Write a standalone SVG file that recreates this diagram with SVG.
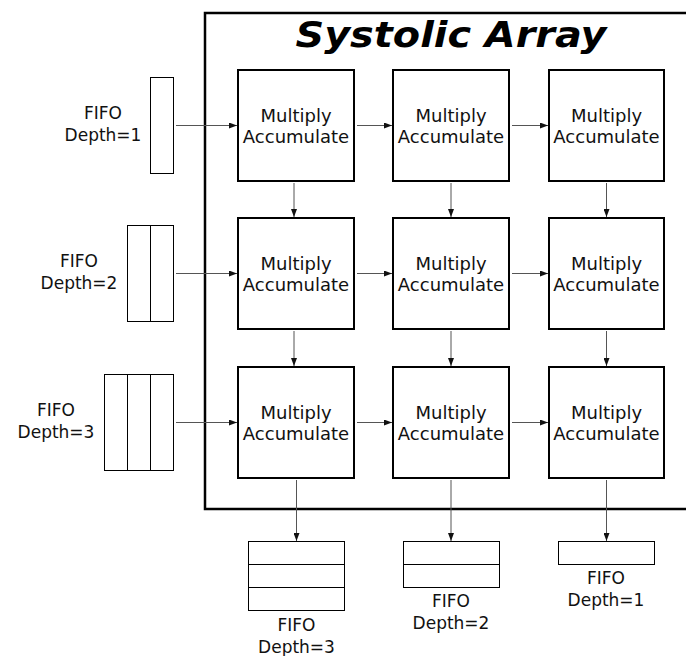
<svg xmlns="http://www.w3.org/2000/svg" width="686" height="656" viewBox="0 0 686 656">
  <style>
    .frame { fill: none; stroke: #000; stroke-width: 2.5; }
    .mac rect { fill: #fff; stroke: #000; stroke-width: 2; }
    .mac text { font-family: "DejaVu Sans", sans-serif; font-size: 18px; text-anchor: middle; fill: #111; }
    .fifo rect, .fifo line { fill: #fff; stroke: #000; stroke-width: 1; }
    .fifo line { fill: none; }
    .fifo text { font-family: "DejaVu Sans", sans-serif; font-size: 17px; text-anchor: middle; fill: #111; }
    .title { font-family: "DejaVu Sans", sans-serif; font-size: 35px; font-weight: bold; font-style: italic; text-anchor: middle; fill: #000; }
    #connectors line { stroke: #555; stroke-width: 1; marker-end: url(#arrow); }
  </style>
  <defs>
    <marker id="arrow" viewBox="0 0 8 6" refX="8" refY="3" markerWidth="8" markerHeight="6" markerUnits="userSpaceOnUse" orient="auto">
      <path d="M0,0 L8,3 L0,6 Z" fill="#111"/>
    </marker>
  </defs>
  <rect width="686" height="656" fill="#fff"/>

  <!-- array frame, open on the right -->
  <rect class="frame" x="205" y="13" width="500" height="496"/>
  <text class="title" x="451" y="47" textLength="311" lengthAdjust="spacingAndGlyphs">Systolic Array</text>

  <!-- connectors -->
  <g id="connectors">
    <!-- input FIFOs to first column -->
    <line x1="176" y1="125.5" x2="237" y2="125.5"/>
    <line x1="176" y1="273.5" x2="237" y2="273.5"/>
    <line x1="176" y1="422.5" x2="237" y2="422.5"/>
    <!-- horizontal links between cells -->
    <line x1="357" y1="125.5" x2="392" y2="125.5"/>
    <line x1="512" y1="125.5" x2="548" y2="125.5"/>
    <line x1="357" y1="273.5" x2="392" y2="273.5"/>
    <line x1="512" y1="273.5" x2="548" y2="273.5"/>
    <line x1="357" y1="422.5" x2="392" y2="422.5"/>
    <line x1="512" y1="422.5" x2="548" y2="422.5"/>
    <!-- vertical links between cells -->
    <line x1="294" y1="183" x2="294" y2="217"/>
    <line x1="451" y1="183" x2="451" y2="217"/>
    <line x1="606.5" y1="183" x2="606.5" y2="217"/>
    <line x1="294" y1="331" x2="294" y2="366"/>
    <line x1="451" y1="331" x2="451" y2="366"/>
    <line x1="606.5" y1="331" x2="606.5" y2="366"/>
    <!-- last row to output FIFOs -->
    <line x1="296.5" y1="480" x2="296.5" y2="541"/>
    <line x1="451" y1="480" x2="451" y2="541"/>
    <line x1="606.5" y1="480" x2="606.5" y2="541"/>
  </g>

  <!-- multiply-accumulate cells -->
  <g id="mac-1-1" class="mac"><rect x="238" y="70" width="116" height="111"/><text x="296" y="122">Multiply</text><text x="296" y="143">Accumulate</text></g>
  <g id="mac-1-2" class="mac"><rect x="393" y="70" width="116" height="111"/><text x="451" y="122">Multiply</text><text x="451" y="143">Accumulate</text></g>
  <g id="mac-1-3" class="mac"><rect x="549" y="70" width="115" height="111"/><text x="606.5" y="122">Multiply</text><text x="606.5" y="143">Accumulate</text></g>

  <g id="mac-2-1" class="mac"><rect x="238" y="218" width="116" height="111"/><text x="296" y="270">Multiply</text><text x="296" y="291">Accumulate</text></g>
  <g id="mac-2-2" class="mac"><rect x="393" y="218" width="116" height="111"/><text x="451" y="270">Multiply</text><text x="451" y="291">Accumulate</text></g>
  <g id="mac-2-3" class="mac"><rect x="549" y="218" width="115" height="111"/><text x="606.5" y="270">Multiply</text><text x="606.5" y="291">Accumulate</text></g>

  <g id="mac-3-1" class="mac"><rect x="238" y="367" width="116" height="111"/><text x="296" y="419">Multiply</text><text x="296" y="440">Accumulate</text></g>
  <g id="mac-3-2" class="mac"><rect x="393" y="367" width="116" height="111"/><text x="451" y="419">Multiply</text><text x="451" y="440">Accumulate</text></g>
  <g id="mac-3-3" class="mac"><rect x="549" y="367" width="115" height="111"/><text x="606.5" y="419">Multiply</text><text x="606.5" y="440">Accumulate</text></g>

  <!-- input FIFOs (left) -->
  <g id="fifo-in-1" class="fifo">
    <rect x="150.5" y="77.5" width="23" height="96"/>
    <text x="103" y="119">FIFO</text><text x="103" y="141">Depth=1</text>
  </g>
  <g id="fifo-in-2" class="fifo">
    <rect x="127.5" y="225.5" width="46" height="96"/>
    <line x1="150.5" y1="225.5" x2="150.5" y2="321.5"/>
    <text x="79" y="267">FIFO</text><text x="79" y="289">Depth=2</text>
  </g>
  <g id="fifo-in-3" class="fifo">
    <rect x="104.5" y="374.5" width="69" height="96"/>
    <line x1="127.5" y1="374.5" x2="127.5" y2="470.5"/>
    <line x1="150.5" y1="374.5" x2="150.5" y2="470.5"/>
    <text x="56" y="416">FIFO</text><text x="56" y="438">Depth=3</text>
  </g>

  <!-- output FIFOs (bottom) -->
  <g id="fifo-out-1" class="fifo">
    <rect x="248.5" y="541.5" width="96" height="69"/>
    <line x1="248.5" y1="564.5" x2="344.5" y2="564.5"/>
    <line x1="248.5" y1="587.5" x2="344.5" y2="587.5"/>
    <text x="296.5" y="631">FIFO</text><text x="296.5" y="653">Depth=3</text>
  </g>
  <g id="fifo-out-2" class="fifo">
    <rect x="403.5" y="541.5" width="96" height="46"/>
    <line x1="403.5" y1="564.5" x2="499.5" y2="564.5"/>
    <text x="451" y="607">FIFO</text><text x="451" y="629">Depth=2</text>
  </g>
  <g id="fifo-out-3" class="fifo">
    <rect x="558.5" y="541.5" width="96" height="23"/>
    <text x="606" y="584">FIFO</text><text x="606" y="606">Depth=1</text>
  </g>
</svg>
